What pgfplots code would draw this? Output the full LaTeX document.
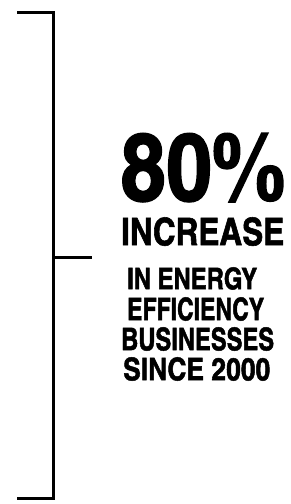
\documentclass[border=0pt]{standalone}
\usepackage{pgfplots}
\pgfplotsset{compat=1.18}
\usepackage{fontspec}
\setmainfont{texgyreheroscn}[Extension=.otf, UprightFont=*-regular, BoldFont=*-bold, BoldFeatures={FakeBold=1.5}]
\newcommand{\fit}[3]{\resizebox{#1}{#2}{\raisebox{0pt}[\height][0pt]{\bfseries #3}}}
\begin{document}
\begin{tikzpicture}
\begin{axis}[
  width=290pt, height=504pt, scale only axis,
  xmin=0, xmax=290, ymin=0, ymax=504, y dir=reverse,
  hide axis, clip=false,
]
\addplot[draw=none, forget plot] coordinates {(0,0) (290,504)};
\path[use as bounding box] (axis cs:0,0) rectangle (axis cs:290,504);
\addplot[black, line width=3pt, line join=miter] coordinates {(17,12) (53,12) (53,498) (17,498)};
\addplot[black, line width=3pt] coordinates {(53,257) (92,257)};
\node[anchor=north west, inner sep=0pt] at (axis cs:120,133) {\fit{165pt}{67pt}{80\%}};
\node[anchor=north west, inner sep=0pt] at (axis cs:121,217) {\fit{163pt}{28pt}{INCREASE}};
\node[anchor=north west, inner sep=0pt] at (axis cs:127,267) {\fit{130pt}{22pt}{IN ENERGY}};
\node[anchor=north west, inner sep=0pt] at (axis cs:127,297) {\fit{137pt}{23pt}{EFFICIENCY}};
\node[anchor=north west, inner sep=0pt] at (axis cs:121,327) {\fit{153pt}{23pt}{BUSINESSES}};
\node[anchor=north west, inner sep=0pt] at (axis cs:123,357) {\fit{147pt}{23pt}{SINCE 2000}};
\end{axis}
\end{tikzpicture}
\end{document}
